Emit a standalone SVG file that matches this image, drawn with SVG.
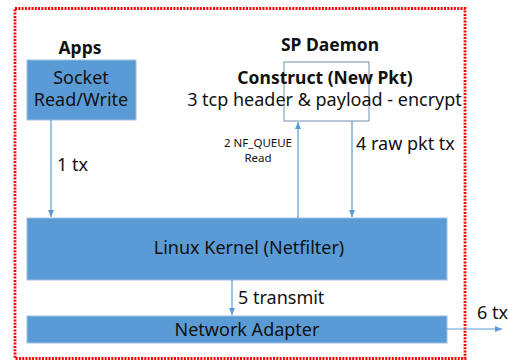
<svg xmlns="http://www.w3.org/2000/svg" width="508" height="362" viewBox="0 0 508 362">
<style>
text{font-family:"Noto Sans","Open Sans","Liberation Sans",sans-serif;fill:#111;}
.lbl{font-size:18px;}
.bold{font-size:17.5px;font-weight:bold;}
.small{font-size:11.5px;}
.blue{fill:#5b9bd5;stroke:#9cc0e3;stroke-width:1;}
.conn{stroke:#5b9bd5;stroke-width:1.2;fill:none;marker-end:url(#ah);}
</style>
<defs>
<marker id="ah" markerWidth="8" markerHeight="8" refX="7" refY="4" orient="auto" markerUnits="userSpaceOnUse">
<path d="M0,1 L7,4 L0,7 Z" fill="#5b9bd5"/>
</marker>
</defs>
<rect x="15" y="8.5" width="450" height="350" fill="none" stroke="#ff0000" stroke-width="2.8" stroke-dasharray="2 1.3"/>
<g id="apps">
<text x="80" y="54" class="bold" text-anchor="middle">Apps</text>
<rect x="27" y="60" width="109" height="60" class="blue"/>
<text x="81" y="84" class="lbl" text-anchor="middle">Socket</text>
<text x="81" y="106" class="lbl" text-anchor="middle">Read/Write</text>
</g>
<g id="sp-daemon">
<text x="330" y="51" class="bold" text-anchor="middle">SP Daemon</text>
<rect x="284" y="62" width="85" height="59" fill="none" stroke="#6f8fb0" stroke-width="1"/>
<text x="325" y="84" class="bold" text-anchor="middle">Construct (New Pkt)</text>
<text x="324.5" y="106" class="lbl" text-anchor="middle">3 tcp header &amp; payload - encrypt</text>
</g>
<g id="kernel">
<rect x="27" y="218" width="420" height="62" class="blue"/>
<text x="249" y="254" class="lbl" text-anchor="middle">Linux Kernel (Netfilter)</text>
</g>
<g id="adapter">
<rect x="27" y="316" width="420" height="27" class="blue"/>
<text x="247" y="335.5" class="lbl" text-anchor="middle">Network Adapter</text>
</g>
<g id="connectors">
<line x1="51" y1="120" x2="51" y2="217" class="conn"/>
<line x1="298" y1="218" x2="298" y2="122" class="conn"/>
<line x1="352" y1="121" x2="352" y2="217" class="conn"/>
<line x1="232" y1="280" x2="232" y2="315" class="conn"/>
<line x1="447" y1="329" x2="502" y2="329" class="conn"/>
<text x="57" y="171" class="lbl">1 tx</text>
<text x="258" y="146.5" class="small" text-anchor="middle">2 NF_QUEUE</text>
<text x="258" y="162" class="small" text-anchor="middle">Read</text>
<text x="356" y="150" class="lbl">4 raw pkt tx</text>
<text x="238" y="304" class="lbl">5 transmit</text>
<text x="477" y="319" class="lbl">6 tx</text>
</g>
</svg>
